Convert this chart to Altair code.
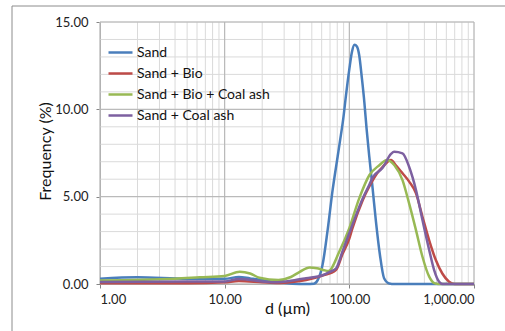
import altair as alt
import pandas as pd

series_names = ["Sand", "Sand + Bio", "Sand + Bio + Coal ash", "Sand + Coal ash"]
series_colors = ["#4a7ebb", "#be4b48", "#98b954", "#7d60a0"]

sand_d = [1, 2, 5, 10, 13, 16, 20, 27, 35, 45, 52, 56, 61, 67, 73.5, 80.6, 84, 89.5, 94, 100,
          105, 110, 115, 120, 126, 132, 137.5, 144.5, 153.6, 163.5, 176, 190, 209, 230, 1000]
sand_f = [0.3, 0.38, 0.3, 0.3, 0.4, 0.32, 0.23, 0.08, 0.02, 0.0, 0.02, 0.25, 1.1, 3.1, 5.4, 7.3, 8.15, 9.5, 10.8, 12.3,
          13.3, 13.7, 13.6, 13.1, 11.8, 10.4, 8.9, 7.3, 5.5, 3.57, 1.66, 0.33, 0.03, 0.0, 0.0]

bio_d = [1, 5, 10, 13, 20, 27, 35, 45, 61, 78, 88, 100, 106, 128, 145, 174, 185, 216, 236, 267,
         302, 342, 386, 437, 494, 557, 631, 700, 1000]
bio_f = [0.05, 0.05, 0.1, 0.17, 0.1, 0.06, 0.12, 0.23, 0.48, 0.8, 1.7, 2.6, 3.2, 4.8, 5.6, 6.5, 6.7, 7.1, 6.8, 6.34,
         5.86, 5.2, 3.85, 2.5, 1.37, 0.6, 0.13, 0.0, 0.0]

bio_coal_d = [1, 4, 6.3, 10, 13.2, 16, 19, 27, 34, 40, 48, 55, 62, 68, 83, 100, 120, 145, 174, 200,
              230, 267, 302, 342, 386, 437, 480, 520, 1000]
bio_coal_f = [0.2, 0.3, 0.38, 0.46, 0.7, 0.6, 0.36, 0.23, 0.4, 0.7, 0.95, 0.9, 0.8, 0.74, 1.85, 3.2, 4.9, 6.24, 6.8, 7.1,
              6.8, 5.95, 4.6, 3.1, 1.56, 0.42, 0.05, 0.0, 0.0]

coal_d = [1, 5, 10, 13, 20, 25, 35, 45, 61, 70, 78.5, 88, 106, 128, 145, 154, 185, 216, 229, 267,
          302, 342, 386, 437, 479, 525, 560, 1000]
coal_f = [0.12, 0.15, 0.15, 0.29, 0.15, 0.1, 0.2, 0.33, 0.5, 0.7, 0.9, 1.85, 3.4, 4.9, 5.7, 6.1, 6.65, 7.45, 7.57, 7.48,
          6.7, 5.4, 3.66, 1.95, 0.8, 0.13, 0.0, 0.0]

x_major = [1, 10, 100, 1000]
x_minor = [1, 2, 3, 4, 5, 6, 7, 8, 9, 10, 20, 30, 40, 50, 60, 70, 80, 90, 100,
           200, 300, 400, 500, 600, 700, 800, 900, 1000]
y_major = [0, 5, 10, 15]
y_minor = [0, 1, 2, 3, 4, 5, 6, 7, 8, 9, 10, 11, 12, 13, 14, 15]

rows = []
for name, ds, fs in zip(series_names, [sand_d, bio_d, bio_coal_d, coal_d], [sand_f, bio_f, bio_coal_f, coal_f]):
    for i, (d, f) in enumerate(zip(ds, fs)):
        rows.append({"series": name, "d": d, "f": f, "i": i})
df = pd.DataFrame(rows)

FONT = "Lato"
x_scale = alt.Scale(type="log", domain=[1, 1000], nice=False)
y_scale = alt.Scale(domain=[0, 15], nice=False, zero=True)

x_axis = alt.Axis(values=x_major, format=",.2f", title="d (µm)", grid=False,
                  tickSize=4, tickColor="#868686", domainColor="#868686",
                  labelPadding=5, labelFontSize=13, labelFont=FONT, labelColor="#222",
                  titleFont=FONT, titleFontSize=16, titleFontWeight="normal", titleColor="#111",
                  titleY=16)
y_axis = alt.Axis(values=y_major, format=".2f", title="Frequency (%)", grid=False,
                  tickSize=4, tickColor="#868686", domainColor="#868686",
                  labelPadding=8, labelFontSize=13, labelFont=FONT, labelColor="#222",
                  titleFont=FONT, titleFontSize=16, titleFontWeight="normal", titleColor="#111",
                  titleX=-47, titleY=129)

grid_x_minor = alt.Chart(pd.DataFrame({"d": x_minor})).mark_rule(color="#dadada", strokeWidth=1).encode(
    x=alt.X("d:Q", scale=x_scale, axis=x_axis))
grid_y_minor = alt.Chart(pd.DataFrame({"f": y_minor})).mark_rule(color="#dadada", strokeWidth=1).encode(
    y=alt.Y("f:Q", scale=y_scale, axis=y_axis))
grid_x_major = alt.Chart(pd.DataFrame({"d": x_major})).mark_rule(color="#b4b4b4", strokeWidth=1).encode(
    x=alt.X("d:Q", scale=x_scale, axis=x_axis))
grid_y_major = alt.Chart(pd.DataFrame({"f": y_major})).mark_rule(color="#b4b4b4", strokeWidth=1).encode(
    y=alt.Y("f:Q", scale=y_scale, axis=y_axis))

frame = alt.Chart(pd.DataFrame({"a": [0]})).mark_rect(fill=None, stroke="#8c8c8c", strokeWidth=1, clip=False).encode(
    x=alt.value(-88), x2=alt.value(430), y=alt.value(-16), y2=alt.value(360))

lines = alt.Chart(df).mark_line(strokeWidth=2.5, interpolate="monotone").encode(
    x=alt.X("d:Q", scale=x_scale, axis=x_axis),
    y=alt.Y("f:Q", scale=y_scale, axis=y_axis),
    color=alt.Color("series:N", scale=alt.Scale(domain=series_names, range=series_colors),
                    legend=alt.Legend(title=None, orient="none", legendX=7, legendY=17,
                                      symbolType="stroke", symbolSize=576, symbolStrokeWidth=2.5,
                                      labelOffset=3, rowPadding=-2, labelFontSize=14, labelFont=FONT,
                                      labelColor="#111", padding=0)),
    order=alt.Order("i:Q"),
)

chart = alt.layer(frame, grid_y_minor, grid_x_minor, grid_y_major, grid_x_major, lines).properties(
    width=374, height=262,
    autosize=alt.AutoSizeParams(type="none"),
    padding={"left": 100, "top": 22, "right": 31, "bottom": 47},
).configure_view(stroke=None)

chart.save("out.html", embed_options={"renderer": "svg", "actions": False})
